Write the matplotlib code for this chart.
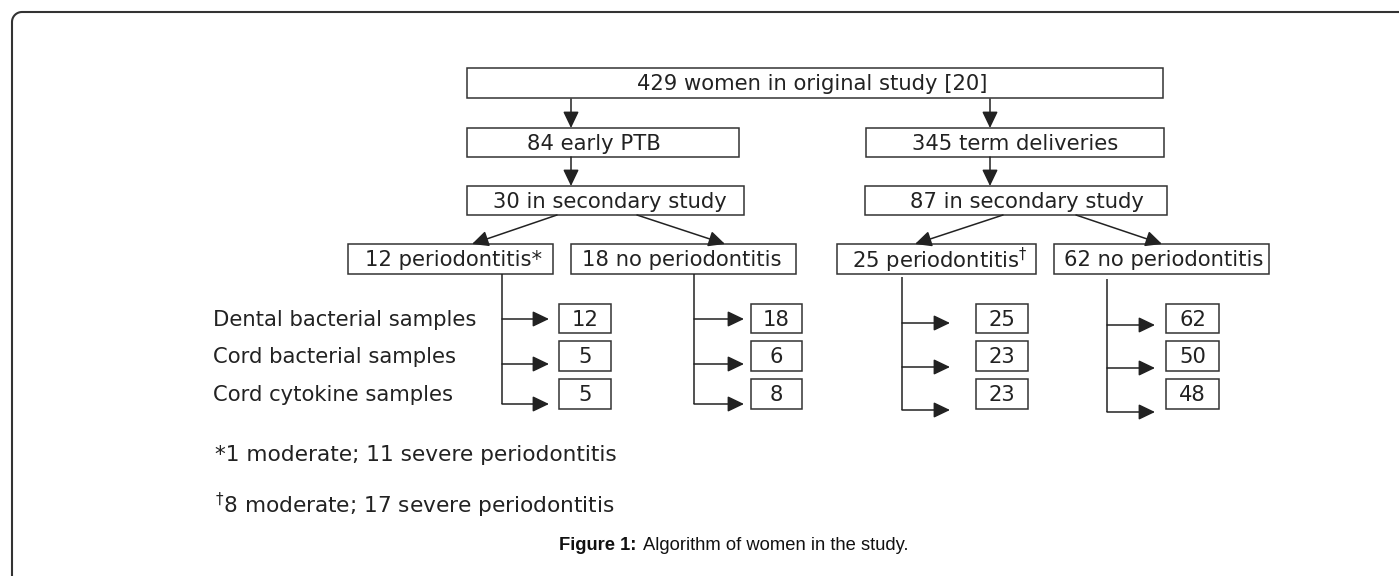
import matplotlib
matplotlib.use("Agg")
import numpy as np
import matplotlib.pyplot as plt
from matplotlib.patches import Rectangle

# ---------------- data ----------------
top_label = "429 women in original study [20]"
level1_labels = ["84 early PTB", "345 term deliveries"]
level2_labels = ["30 in secondary study", "87 in secondary study"]
group_labels = ["12 periodontitis*", "18 no periodontitis",
                "25 periodontitis$^{\\dagger}$", "62 no periodontitis"]
sample_types = ["Dental bacterial samples", "Cord bacterial samples",
                "Cord cytokine samples"]
counts_12_perio = [12, 5, 5]
counts_18_no = [18, 6, 8]
counts_25_perio = [25, 23, 23]
counts_62_no = [62, 50, 48]
footnotes = ["*1 moderate; 11 severe periodontitis",
             "$^{\\dagger}$8 moderate; 17 severe periodontitis"]
caption_bold = "Figure 1:"
caption_rest = "Algorithm of women in the study."

# ---------------- layout (pixel coordinates) ----------------
W, H = 1399, 576
FONT = "DejaVu Sans"
FS = 15.2
EC = "#333333"
TC = "#222222"
LW = 1.1

fig = plt.figure(figsize=(W / 100, H / 100), dpi=100)
ax = fig.add_axes([0, 0, 1, 1])
ax.set_xlim(0, W)
ax.set_ylim(H, 0)
ax.axis("off")

# outer frame: left and top edges with a rounded corner
r = 10
ang = np.linspace(np.pi, 1.5 * np.pi, 20)
fx = np.concatenate([[12], 12 + r + r * np.cos(ang), [W + 5]])
fy = np.concatenate([[H + 5], 12 + r + r * np.sin(ang), [12]])
ax.plot(fx, fy, color="#333333", lw=1.5)


def box(x0, y0, x1, y1, text=None, tx=None, fs=FS):
    ax.add_patch(Rectangle((x0, y0), x1 - x0, y1 - y0, fill=False, ec=EC, lw=LW))
    if text is not None:
        cx = (x0 + x1) / 2 if tx is None else tx
        ax.text(cx, (y0 + y1) / 2 + 1, text, ha="center", va="center",
                fontsize=fs, family=FONT, color=TC)


def arrow(x0, y0, x1, y1):
    ax.annotate("", xy=(x1, y1), xytext=(x0, y0),
                arrowprops=dict(arrowstyle="-|>,head_length=1.0,head_width=0.48",
                                mutation_scale=10, lw=LW, color="#222222",
                                shrinkA=0, shrinkB=0))


def line(xs, ys):
    ax.plot(xs, ys, color="#222222", lw=LW, solid_capstyle="butt")


# top level
box(467, 68, 1163, 98, top_label, tx=812)
arrow(571, 99, 571, 128)
arrow(990, 99, 990, 128)

# level 1
l1_boxes = [(467, 128, 739, 157, 594), (866, 128, 1164, 157, 1015)]
for (x0, y0, x1, y1, tx), lab in zip(l1_boxes, level1_labels):
    box(x0, y0, x1, y1, lab, tx=tx)
arrow(571, 157, 571, 186)
arrow(990, 157, 990, 186)

# level 2
l2_boxes = [(467, 186, 744, 215, 610), (865, 186, 1167, 215, 1027)]
for (x0, y0, x1, y1, tx), lab in zip(l2_boxes, level2_labels):
    box(x0, y0, x1, y1, lab, tx=tx)
arrow(557, 215, 472, 244)
arrow(637, 215, 725, 244)
arrow(1003, 215, 915, 244)
arrow(1076, 215, 1162, 244)

# group boxes
g_boxes = [(348, 244, 553, 274, 454), (571, 244, 796, 274, 682),
           (837, 244, 1036, 274, 940), (1054, 244, 1269, 274, 1164)]
for (x0, y0, x1, y1, tx), lab in zip(g_boxes, group_labels):
    box(x0, y0, x1, y1, lab, tx=tx)

# sample branches
group_counts = [counts_12_perio, counts_18_no, counts_25_perio, counts_62_no]
branch_x = [502, 694, 902, 1107]
branch_top = [274, 274, 277, 279]
branch_ys = [[319, 364, 404], [319, 364, 404], [323, 367, 410], [325, 368, 412]]
arrow_len = [47, 50, 48, 48]
small_x = [(559, 611), (751, 802), (976, 1028), (1166, 1219)]
small_y = [(304, 333), (341, 371), (379, 409)]

for gi, counts in enumerate(group_counts):
    bx = branch_x[gi]
    ys = branch_ys[gi]
    line([bx, bx], [branch_top[gi], ys[-1]])
    for y in ys:
        arrow(bx, y, bx + arrow_len[gi], y)
    for (y0, y1), c in zip(small_y, counts):
        box(small_x[gi][0], y0, small_x[gi][1], y1, str(c))

# row labels
label_ys = [320, 357, 395]
for y, lab in zip(label_ys, sample_types):
    ax.text(213, y, lab, ha="left", va="center", fontsize=FS, family=FONT, color=TC)

# footnotes
for y, fn in zip([455, 505], footnotes):
    ax.text(215, y, fn, ha="left", va="center", fontsize=15.6, family=FONT, color=TC)

# caption
ax.text(559, 546, caption_bold, ha="left", va="center", fontsize=13.2,
        family="Liberation Sans", weight="bold", color="#111111")
ax.text(643, 546, caption_rest, ha="left", va="center", fontsize=13.2,
        family="Liberation Sans", color="#111111")

fig.savefig("out.png", dpi=100)
